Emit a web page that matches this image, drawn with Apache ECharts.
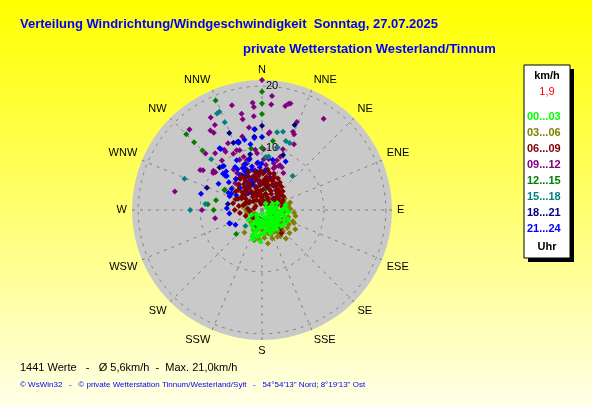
<!DOCTYPE html>
<html>
<head>
<meta charset="utf-8">
<script src="https://cdn.jsdelivr.net/npm/echarts@6/dist/echarts.min.js"></script>
<style>
  html, body { margin: 0; padding: 0; }
  #main {
    width: 592px; height: 407px;
    background: linear-gradient(to bottom, #ffff00 0%, #ffff60 45%, #ffffe8 100%);
  }
</style>
</head>
<body>
<div id="main"></div>
<script>
// Himmelsrichtungen fuer die Winkelachse (alle 22,5 Grad)
var directions = ['N', 'NNE', 'NE', 'ENE', 'E', 'ESE', 'SE', 'SSE',
                  'S', 'SSW', 'SW', 'WSW', 'W', 'WNW', 'NW', 'NNW'];
var radiusTicks = [10, 20];

// Zeitfenster (Legende) und Farben
var timeSlots = ['00...03', '03...06', '06...09', '09...12', '12...15', '15...18', '18...21', '21...24'];
var slotColors = ['#00ff00', '#808000', '#800000', '#800080', '#008000', '#008080', '#000080', '#0000ff'];

// Messwerte je Zeitfenster: [Geschwindigkeit km/h, Richtung Grad]
var p0003 = [[5.1,183],[4.6,200],[3.4,88],[3.8,105],[3.9,78],[4.0,90],[3.6,103],[3.2,132],[3.0,190],[5.0,196],
  [4.0,184],[2.7,233],[1.0,120],[1.5,95],[2.0,100],[2.5,110],[3.0,115],[1.8,130],[2.4,140],[2.9,150],
  [3.5,160],[1.3,160],[2.1,170],[2.6,178],[3.4,170],[1.6,200],[2.2,210],[1.1,230],[1.9,245],[0.8,60],
  [1.4,70],[2.3,80],[3.0,95],[2.8,125],[2.0,155],[3.9,142],[4.3,120],[1.7,185],[2.5,195],[3.3,205],
  [0.6,180],[2.0,60],[1.2,30],[2.7,65],[3.6,85],
  [1.5,140],[2.2,125],[2.8,135],[3.3,145],[3.7,150],[4.1,130],[4.5,110],[3.1,100],[2.6,95],[2.0,85],
  [1.6,110],[2.4,160],[3.0,165],[3.8,175],[4.4,190],[1.9,175],[2.8,185],[3.6,195],[4.2,200],[2.2,190],
  [1.4,215],[2.9,215],[3.2,120],[3.9,115],[4.3,95],[2.7,105],[1.2,90],[3.5,135],[4.0,160],[2.3,145]];
var p0306 = [[6.2,120],[4.1,63],[4.6,218],[6.0,307],[4.1,41],[3.7,111],[3.8,135],[3.5,158],[3.8,172],[3.5,203],
  [2.5,258],[2.8,287],[2.2,90],[3.0,100],[4.4,105],[4.9,118],[2.6,125],[3.2,140],[4.5,145],[2.0,150],
  [2.9,165],[4.2,160],[1.6,175],[2.4,185],[3.1,190],[1.8,210],[2.7,225],[1.3,240],[1.9,130],[1.5,100],
  [3.4,80],[2.5,70],[4.6,88],[5.2,95],[1.2,60],[2.1,30],[3.0,50],[1.7,320],[2.3,300],[3.6,125],
  [4.0,150],[5.3,110],[2.8,115],[3.3,178],
  [1.4,80],[2.0,115],[3.6,95],[4.2,130],[4.8,135],[5.0,150],[3.4,150],[2.4,160],[3.9,165],[4.5,175],
  [3.0,210],[2.2,230],[1.8,260],[2.6,270],[3.2,280],[3.7,300],[4.5,295],[2.9,60],[3.8,70],[4.3,80],
  [6.8,299],
  [5.5,100],[5.8,130],[5.2,145],[4.9,160],[5.5,170],[4.8,185],[5.6,112],[4.7,75],[5.0,125],[6.0,140]];
var p0609 = [[5.9,2],[5.4,8],[4.8,355],[6.2,350],[5.1,15],[4.4,22],[5.7,27],[3.9,35],[4.9,40],[3.2,48],
  [4.1,58],[2.6,70],[3.3,80],[2.1,95],[1.8,120],[1.6,160],[1.4,200],[1.9,230],[2.8,250],[3.6,262],
  [4.4,270],[3.1,285],[4.6,292],[3.8,300],[5.2,305],[4.3,312],[5.6,318],[6.1,325],[3.5,330],[4.7,335],
  [5.8,338],[2.9,342],[3.8,346],[5.0,349],[6.0,356],[2.4,358],[3.3,3],[4.2,6],[2.7,12],[3.6,18],
  [4.5,30],[2.2,25],[1.7,40],[2.5,55],[3.7,65],[1.2,300],[2.0,315],[2.6,325],[1.5,345],[1.1,20],
  [3.0,290],[2.3,275],[4.0,320],[5.4,330],[6.5,340],[6.6,8],[5.0,20],[4.1,45],[3.4,70],[2.8,100],
  [4.9,140],[5.0,195],[4.2,135],[3.0,118],[2.0,265],[4.8,283],[3.9,308],[2.4,340],[3.1,355],[4.6,10],
  [5.0,34],
  [1.0,350],[1.5,10],[2.0,0],[2.5,350],[3.0,335],[3.5,345],[4.0,355],[4.5,2],[5.0,5],[5.5,352],
  [6.3,358],[6.0,12],[5.5,20],[4.8,28],[4.2,38],[3.6,42],[3.0,30],[2.6,15],[1.8,30],[1.4,60],
  [2.2,80],[2.9,60],[3.3,55],[3.9,50],[4.5,48],[5.3,33],[6.2,18],[5.6,345],[5.1,325],[4.6,322],
  [4.2,330],[3.6,315],[3.2,305],[2.8,295],[2.4,305],[1.9,330],[3.8,280],[4.3,295],[5.0,310],[5.9,332],
  [6.4,328],[2.5,45],[3.4,25],[4.1,15],[1.3,280]];
var p0912 = [[21.0,0],[18.5,5],[17.4,355],[16.7,355.5],[17.1,5],[17.6,344],[17.2,12.6],[17.7,14],[17.8,15],[15.9,348],
  [15.2,355],[15,348],[15.3,21.6],[17.8,34],[15.7,331],[17.5,318],[15.3,327],[14.7,328],[13.6,21.6],[13.3,23],
  [12.6,5.6],[12.1,333],[11.5,328],[11.9,320.5],[11.9,303],[14.4,282],[10.5,337],[10.3,339.5],[9.8,353.6],[9.2,355],
  [8.6,346.5],[9.8,1.5],[8.3,7.4],[8.4,16.7],[7.3,17],[10.4,19],[7.6,25],[9.1,341],[8.4,343],[7.9,338],
  [10.2,333],[6.1,315],[5.4,316],[5.2,332],[4.4,338],[13.5,351],[12.4,5],[12.9,315],[10.3,321],[11.5,304],
  [10.1,309],[12.3,345],[11.1,328],[10.4,13.5],[9.1,19],[7.6,21],[7,15.5],[8.2,2],[7.6,354],[8.9,336],
  [7.9,342],[8,325],[7.2,326],[17.1,331],[9.9,307],[9.7,270],[9.7,309],[7.7,260],[6.1,331],[5.1,335],
  [7.8,14],[7.8,22],[11.8,26],
  [4.8,345],[5.6,355],[6.5,350],[6.8,340],[7.3,5],[6.2,10],[5.8,20],[6.9,30],[7.5,335],[6.6,320]];
var p1215 = [[19.1,0],[17.2,0],[15.5,0],[10.1,350],[19.2,337],[17.3,315],[15.5,315],[13.6,315],[11.3,9],[10,0],
  [6.9,298],[7.6,282],[7.8,270],[8.8,276],[5.7,227],[6.4,4],[3.5,10],[2.5,340],[4,300],[3,200],
  [2.2,20],[3.1,345]];
var p1518 = [[17.2,335],[17.3,336.5],[15.4,337],[11.6,315],[13.5,292],[11.6,270],[9.2,276],[13.1,15],[11.7,22.5],[11.8,19],
  [10.4,14],[7.4,42],[5.8,332],[8.6,4],[12.8,11],[11.8,0],[8.7,7],[8,341],[6.9,337],[3.7,226]];
var p1821 = [[13.5,337],[11.8,337],[11.9,354],[13.6,0],[9.7,315],[9.6,292],[5.6,280],[4.1,117],[9.5,21],[13.1,355],
  [14.7,21],[11.7,341],[9.2,348],[3,330],[4,10],[2.5,300],[6.5,330],[7.2,338],[5.5,350],[4.5,340]];
var p2124 = [[13.1,354.5],[11.8,0],[11.7,346],[11.5,341],[12.1,325.5],[9,333],[9.5,318],[8.5,317],[7.9,314],[8.2,301],
  [10.2,285],[6.1,297],[5.7,293],[5.6,298.5],[5.7,273],[5.7,248],[4.9,241],[7.4,336],[6.9,339],[6.7,328],
  [6.2,337],[7.5,359.5],[5.4,14],[4.3,26],[4.3,3],[4.1,321],[11.7,354],[10.8,350],[11.7,340],[9.4,319],
  [8.6,313],[7.7,355],[6.9,357],[6,2],[8.3,12],[8.4,346],[8.7,26],[8.2,328],[7.7,329],[5.3,264],
  [5.6,247],[6.7,346],[6.2,353],[6.8,336],[2.7,45],[11.9,326],[8.1,313],
  [3.5,320],[4.5,330],[5.2,340],[5.0,315],[6.5,320],[7.0,310],[6.0,305],[4.8,300],[3.9,345],[5.8,350],
  [6.5,5],[5.0,8],[4.4,355],[7.2,347],[7.9,340],[6.3,325]];
var slotData = [p0003, p0306, p0609, p0912, p1215, p1518, p1821, p2124];

var myChart = echarts.init(document.getElementById('main'));

// Zeichenreihenfolge: Morgen- und Nachtwerte im Zentrum zuletzt (oben)
var drawOrder = [1, 3, 4, 5, 6, 7, 2, 0];
var series = [];
for (var j = 0; j < drawOrder.length; j++) {
  var i = drawOrder[j];
  series.push({
    name: timeSlots[i],
    type: 'scatter',
    coordinateSystem: 'polar',
    polarIndex: 1,
    symbol: 'diamond',
    symbolSize: 6,
    z: 5,
    itemStyle: { color: slotColors[i], opacity: 1 },
    data: slotData[i]
  });
}

var legendData = [];
for (var i = 0; i < timeSlots.length; i++) {
  legendData.push({ name: timeSlots[i], textStyle: { color: slotColors[i] } });
}

var fontFam = 'Liberation Sans, Arial, sans-serif';

var option = {
  animation: false,
  textStyle: { fontFamily: fontFam },
  title: [
    { text: 'Verteilung Windrichtung/Windgeschwindigkeit  Sonntag, 27.07.2025', left: 20, top: 18, padding: 0,
      textStyle: { color: '#0000ff', fontSize: 13, fontWeight: 'bold' } },
    { text: 'private Wetterstation Westerland/Tinnum', left: 243, top: 43, padding: 0,
      textStyle: { color: '#0000ff', fontSize: 13, fontWeight: 'bold' } },
    { text: '1441 Werte   -   \u00d8 5,6km/h  -  Max. 21,0km/h', left: 20, top: 362, padding: 0,
      textStyle: { color: '#000000', fontSize: 11, fontWeight: 'normal' } },
    { text: '\u00a9 WsWin32   -   \u00a9 private Wetterstation Tinnum/Westerland/Sylt   -   54\u00b054\'13" Nord; 8\u00b019\'13" Ost',
      left: 20, top: 381, padding: 0,
      textStyle: { color: '#0000ff', fontSize: 8, fontWeight: 'normal' } }
  ],
  legend: {
    orient: 'vertical',
    left: 522, top: 111,
    padding: 0,
    itemWidth: 0, itemHeight: 12, itemGap: 4,
    selectedMode: false,
    z: 5,
    textStyle: { fontSize: 11, fontWeight: 'bold' },
    data: legendData
  },
  graphic: [
    { type: 'rect', z: 1, shape: { x: 528, y: 69, width: 46, height: 193 }, style: { fill: '#000000' } },
    { type: 'rect', z: 2, shape: { x: 524, y: 65, width: 46, height: 193 },
      style: { fill: '#ffffff', stroke: '#000000', lineWidth: 1 } },
    { type: 'text', z: 3, x: 547, y: 76, style: { text: 'km/h', fill: '#000000', align: 'center', verticalAlign: 'middle',
      font: 'bold 11px ' + fontFam } },
    { type: 'text', z: 3, x: 547, y: 92, style: { text: '1,9', fill: '#ff0000', align: 'center', verticalAlign: 'middle',
      font: '11px ' + fontFam } },
    { type: 'text', z: 3, x: 547, y: 247, style: { text: 'Uhr', fill: '#000000', align: 'center', verticalAlign: 'middle',
      font: 'bold 11px ' + fontFam } }
  ],
  // polar 0: nur die graue Scheibe, polar 1: Gitter, Beschriftung und Punkte
  polar: [
    { center: [262, 210], radius: 130 },
    { center: [262, 210], radius: 130 }
  ],
  angleAxis: [
    {
      polarIndex: 0, type: 'value', min: 0, max: 360, startAngle: 90, clockwise: true, z: 0,
      axisLine: { show: false }, axisTick: { show: false }, axisLabel: { show: false }, splitLine: { show: false }
    },
    {
      polarIndex: 1, type: 'value',
      min: 0, max: 360, interval: 22.5,
      startAngle: 90, clockwise: true, z: 2,
      axisLine: { show: false },
      axisTick: { show: false },
      axisLabel: {
        margin: 5, color: '#000000', fontSize: 11,
        formatter: function (v) {
          var k = Math.round(v / 22.5);
          return k < directions.length ? directions[k] : '';
        }
      },
      splitLine: { show: true, lineStyle: { color: '#808080', type: [3, 5], width: 1 } }
    }
  ],
  radiusAxis: [
    {
      polarIndex: 0, type: 'value', min: 0, max: 21, z: 0,
      axisLine: { show: false }, axisTick: { show: false }, axisLabel: { show: false },
      splitLine: { show: false },
      splitArea: { show: true, areaStyle: { color: ['#c9c9c9'] } }
    },
    {
      polarIndex: 1, type: 'value',
      min: 0, max: 21, interval: 10, z: 2,
      axisLine: { show: false },
      axisTick: { show: false },
      axisLabel: {
        margin: -4, align: 'left', color: '#000000', fontSize: 11,
        formatter: function (v) { return radiusTicks.indexOf(v) >= 0 ? String(v) : ''; }
      },
      splitLine: { show: true, lineStyle: { color: ['#808080', '#808080', '#808080', 'rgba(0,0,0,0)'], type: [3, 5], width: 1 } },
      splitArea: { show: false }
    }
  ],
  series: series
};

myChart.setOption(option);
</script>
</body>
</html>
